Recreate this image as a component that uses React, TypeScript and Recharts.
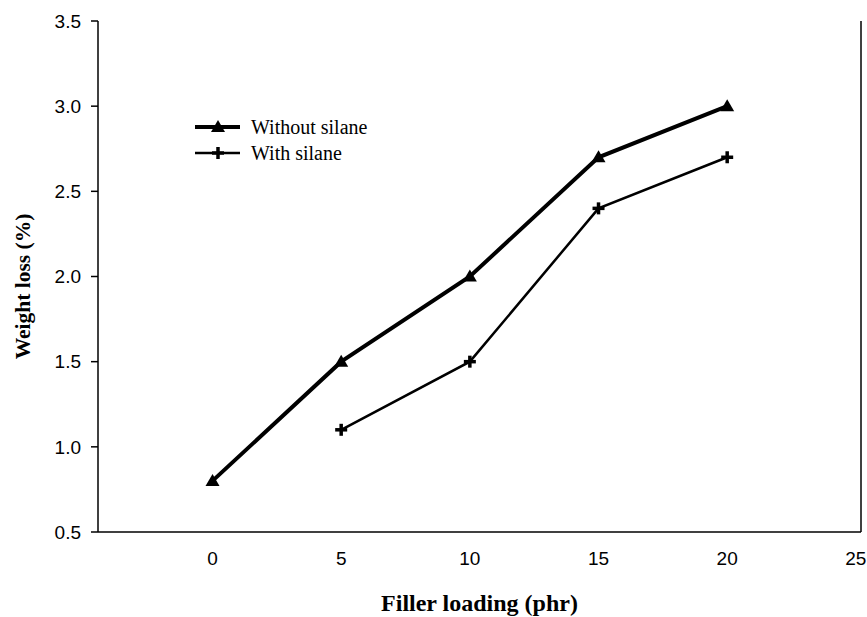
import React from 'react';
import {
  LineChart,
  Line,
  XAxis,
  YAxis,
  ReferenceLine,
} from 'recharts';

const fillerLoading = [0, 5, 10, 15, 20];
const withoutSilane = [0.8, 1.5, 2.0, 2.7, 3.0];
const withSilane = [null, 1.1, 1.5, 2.4, 2.7];
const xTicks = [0, 5, 10, 15, 20, 25];
const yTicks = [0.5, 1.0, 1.5, 2.0, 2.5, 3.0, 3.5];

const chartData = fillerLoading.map((x, i) => ({
  x,
  without: withoutSilane[i],
  with: withSilane[i],
}));

const TriangleDot = (props: any) => {
  const { cx, cy } = props;
  if (cx == null || cy == null) return null;
  return (
    <polygon
      points={`${cx},${cy - 7} ${cx - 7},${cy + 5} ${cx + 7},${cy + 5}`}
      fill="#000"
    />
  );
};

const CrossDot = (props: any) => {
  const { cx, cy } = props;
  if (cx == null || cy == null) return null;
  return (
    <g fill="#000">
      <rect x={cx - 6} y={cy - 1.75} width={12} height={3.5} />
      <rect x={cx - 1.75} y={cy - 6} width={3.5} height={12} />
    </g>
  );
};

// legend drawn over the plot, like the original
const LegendBox = () => (
  <svg
    width={240}
    height={50}
    style={{ position: 'absolute', left: 195, top: 117, display: 'block' }}
  >
    <line x1={0} y1={10} x2={45} y2={10} stroke="#000" strokeWidth={4} />
    <TriangleDot cx={23} cy={10} />
    <text x={56} y={17} fontFamily="'Liberation Serif', serif" fontSize={20}>
      Without silane
    </text>
    <line x1={0} y1={36} x2={45} y2={36} stroke="#000" strokeWidth={2.5} />
    <CrossDot cx={23} cy={36} />
    <text x={56} y={43} fontFamily="'Liberation Serif', serif" fontSize={20}>
      With silane
    </text>
  </svg>
);

const tickFont = { fill: '#000', fontSize: 19, fontFamily: "'Liberation Sans', Arial, sans-serif" };
const titleFont = {
  fill: '#000',
  fontWeight: 'bold',
  fontFamily: "'Liberation Serif', serif",
};

export default function App() {
  return (
    <div style={{ position: 'absolute', left: 0, top: 0, width: 867, height: 617, background: '#fff' }}>
      <LineChart
        width={867}
        height={617}
        data={chartData}
        margin={{ top: 21, right: 6, bottom: 55, left: 38 }}
      >
        <XAxis
          dataKey="x"
          type="number"
          domain={[-4.45, 25.2]}
          ticks={xTicks}
          tickLine={false}
          tickSize={0}
          tickMargin={20}
          axisLine={{ stroke: '#000', strokeWidth: 1.5 }}
          tick={tickFont}
          allowDataOverflow
          label={{
            value: 'Filler loading (phr)',
            position: 'insideBottom',
            offset: -49,
            fontSize: 24,
            ...titleFont,
          }}
        />
        <YAxis
          type="number"
          domain={[0.5, 3.5]}
          ticks={yTicks}
          width={60}
          tickSize={7}
          tickMargin={10}
          tickFormatter={(v: number) => v.toFixed(1)}
          axisLine={{ stroke: '#000', strokeWidth: 1.5 }}
          tickLine={{ stroke: '#000', strokeWidth: 1.5 }}
          tick={tickFont}
          label={{
            value: 'Weight loss (%)',
            angle: -90,
            position: 'center',
            dx: -46,
            dy: 10,
            fontSize: 21.5,
            ...titleFont,
          }}
        />
        <ReferenceLine x={25.2} stroke="#000" strokeWidth={1.5} />
        <Line
          dataKey="without"
          stroke="#000"
          strokeWidth={4}
          dot={<TriangleDot />}
          activeDot={false}
          isAnimationActive={false}
        />
        <Line
          dataKey="with"
          stroke="#000"
          strokeWidth={2.5}
          dot={<CrossDot />}
          activeDot={false}
          connectNulls={false}
          isAnimationActive={false}
        />
      </LineChart>
      <LegendBox />
    </div>
  );
}
